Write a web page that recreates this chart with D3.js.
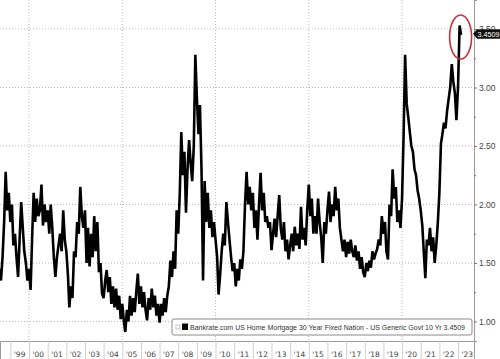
<!DOCTYPE html>
<html>
<head>
<meta charset="utf-8">
<script src="https://cdn.jsdelivr.net/npm/d3@7"></script>
<style>
  body { margin: 0; background: #fff; }
  svg { display: block; font-family: 'DejaVu Sans', sans-serif; }
</style>
</head>
<body>
<div class="chart"></div>
<script>
// monthly spread, first point = June 1998
const firstMonth = new Date(1998, 5, 1);
const spread = [
  1.45, 1.35, 1.55, 1.85, 2.28, 1.95, 2.1,
  1.85, 2.0, 1.65, 1.75, 1.55, 1.38, 1.7, 2.02, 1.8, 1.6, 1.5, 1.35,
  1.45, 1.27, 1.7, 2.10, 1.85, 2.05, 1.9, 1.95, 2.17, 1.82, 2.0, 1.85,
  1.95, 1.75, 2.0, 1.8, 1.55, 1.38, 1.55, 1.65, 1.75, 1.6, 1.95, 1.7,
  1.6, 1.4, 1.12, 1.3, 1.2, 1.6, 1.55, 1.85, 1.75, 2.15, 1.9, 1.8,
  1.95, 1.5, 1.8, 1.47, 1.75, 1.55, 1.9, 1.6, 1.85, 1.42, 1.5, 1.24,
  1.2, 1.35, 1.44, 1.25, 1.38, 1.15, 1.3, 1.12, 1.28, 1.1, 1.22, 1.02,
  1.15, 1.0, 0.91, 1.1, 1.0, 1.22, 1.05, 1.2, 1.08, 1.25, 1.41, 1.15,
  1.3, 1.12, 1.25, 1.1, 1.01, 1.2, 1.1, 1.28, 1.12, 1.22, 1.05, 1.15,
  0.99, 1.15, 1.05, 1.2, 1.08, 1.22, 1.3, 1.52, 1.38, 1.6, 1.45, 1.95,
  1.75, 2.1, 2.62, 2.25, 2.45, 1.93, 2.3, 2.55, 2.35, 2.2, 2.5, 3.28,
  2.9, 2.6, 2.85, 2.3, 1.35, 2.2, 1.85, 2.1, 1.8, 1.95, 1.72, 1.85,
  1.7, 1.55, 1.23, 1.4, 1.6, 1.75, 1.65, 2.02, 1.85, 1.7, 1.55, 1.43,
  1.5, 1.30, 1.45, 1.35, 1.53, 1.45, 1.6, 2.0, 2.28, 2.0, 2.15, 1.95,
  2.1, 1.8, 1.95, 1.70, 2.0, 2.27, 1.95, 2.1, 1.85, 1.9, 1.8, 1.85,
  1.61, 1.75, 1.88, 1.72, 1.9, 2.08, 1.8, 1.7, 1.85, 1.6, 1.7, 1.53,
  1.65, 1.75, 1.6, 1.81, 1.65, 1.75, 1.62, 1.98, 1.7, 1.8, 1.65, 1.95,
  2.17, 1.9, 2.05, 1.75, 1.9, 1.75, 2.05, 1.85, 1.72, 1.50, 1.85, 1.75,
  1.95, 2.11, 1.85, 2.0, 1.9, 2.15, 1.95, 2.05, 1.8, 1.7, 1.6, 1.7,
  1.55, 1.68, 1.58, 1.7, 1.6, 1.55, 1.65, 1.52, 1.6, 1.45, 1.55, 1.42,
  1.38, 1.5, 1.43, 1.52, 1.46, 1.6, 1.53, 1.58, 1.62, 1.7, 1.65, 1.9,
  1.75, 1.85, 1.6, 1.53, 2.0, 1.9, 2.30, 2.05, 2.15, 1.85, 1.95, 1.8,
  2.05, 2.6, 3.28, 2.86, 2.75, 2.62, 2.5, 2.45, 2.3, 2.25, 2.12, 2.05,
  1.95, 1.82, 1.6, 1.37, 1.7, 1.65, 1.8, 1.6, 1.72, 1.5, 1.65, 1.84,
  2.1, 2.52, 2.6, 2.7, 2.65, 2.8, 2.9, 3.0, 3.20, 3.05, 2.95, 2.72,
  3.0, 3.53, 3.45
];
const lastValue = 3.4509;
const yTicks = [1.0, 1.5, 2.0, 2.5, 3.0, 3.5];
const yMinor = [1.25, 1.75, 2.25, 2.75, 3.25];
const gridYears = [2000, 2005, 2010, 2015, 2020];
const yearLabels = d3.range(1999, 2024);
const legendText = 'Bankrate.com US Home Mortgage 30 Year Fixed Nation - US Generic Govt 10 Yr 3.4509';

const w = 500;
const h = 359;
const plotW = 474;
const plotH = 341;

const data = spread.map((v, i) => ({ date: d3.timeMonth.offset(firstMonth, i), value: v }));

const x = d3.scaleTime()
  .domain([new Date(1998, 5, 12), new Date(2023, 10, 10)])
  .range([0, plotW]);
const y = d3.scaleLinear()
  .domain([0.833, 3.748])
  .range([plotH, 0]);

const svg = d3.select('.chart')
  .append('svg')
  .attr('width', w)
  .attr('height', h);

svg.append('clipPath').attr('id', 'clip')
  .append('rect').attr('width', plotW).attr('height', plotH);

// grid
svg.append('g')
  .selectAll('line')
  .data(yTicks)
  .enter()
  .append('line')
  .attr('x1', 0).attr('x2', plotW)
  .attr('y1', d => y(d)).attr('y2', d => y(d))
  .attr('stroke', '#b8b8b8')
  .attr('stroke-dasharray', '1,2');

svg.append('g')
  .selectAll('line')
  .data(gridYears)
  .enter()
  .append('line')
  .attr('x1', d => x(new Date(d, 0, 1))).attr('x2', d => x(new Date(d, 0, 1)))
  .attr('y1', 0).attr('y2', plotH)
  .attr('stroke', '#b8b8b8')
  .attr('stroke-dasharray', '1,2');

// series
const line = d3.line()
  .x(d => x(d.date))
  .y(d => y(d.value));

svg.append('path')
  .datum(data)
  .attr('clip-path', 'url(#clip)')
  .attr('d', line)
  .attr('fill', 'none')
  .attr('stroke', '#000')
  .attr('stroke-width', 2.6)
  .attr('stroke-linejoin', 'miter');

// right axis
const yAxis = svg.append('g')
  .attr('transform', `translate(${plotW},0)`)
  .call(d3.axisRight(y).tickValues(yTicks).tickFormat(d3.format('.2f')).tickSize(3).tickPadding(2));
yAxis.select('.domain').attr('stroke', '#9a9a9a');
yAxis.selectAll('.tick line').attr('stroke', '#777');
yAxis.selectAll('text').attr('fill', '#444').style('font-size', '8.5px');

svg.append('g')
  .attr('transform', `translate(${plotW},0)`)
  .call(d3.axisRight(y).tickValues(yMinor).tickFormat('').tickSize(2))
  .call(g => g.select('.domain').remove())
  .selectAll('.tick line').attr('stroke', '#777');

// bottom axis: separators at year starts, labels in the middle
const xAxis = svg.append('g')
  .attr('transform', `translate(0,${plotH})`)
  .call(d3.axisBottom(x)
    .tickValues(d3.range(1999, 2024).map(yr => new Date(yr, 0, 1)))
    .tickFormat('')
    .tickSize(h - plotH));
xAxis.select('.domain').attr('stroke', '#9a9a9a');
xAxis.selectAll('.tick line').attr('stroke', '#d0d0d0');

svg.append('g')
  .selectAll('text')
  .data(yearLabels)
  .enter()
  .append('text')
  .attr('x', d => x(new Date(d, 6, 1)))
  .attr('y', 357)
  .attr('text-anchor', 'middle')
  .attr('fill', '#444')
  .style('font-size', '7.5px')
  .text(d => `'${String(d).slice(2)}`);

// last value badge (partly covers the 3.50 label, as in the source)
const by = y(lastValue) - 1;
svg.append('path')
  .attr('d', `M${plotW - 1},${by} L${plotW + 3},${by - 4.5} L${w},${by - 4.5} L${w},${by + 5} L${plotW + 3},${by + 5} Z`)
  .attr('fill', '#111');
svg.append('text')
  .attr('x', plotW + 3.5)
  .attr('y', by + 3)
  .attr('fill', '#fff')
  .style('font-family', "'Liberation Sans', sans-serif")
  .style('font-size', '7.2px')
  .text(d3.format('.4f')(lastValue));

// red circle on the peak
svg.append('ellipse')
  .attr('cx', x(new Date(2023, 1, 1)) + 1)
  .attr('cy', 37)
  .attr('rx', 11)
  .attr('ry', 22)
  .attr('fill', 'none')
  .attr('stroke', '#c8303a')
  .attr('stroke-width', 1.6);

// legend
const legend = svg.append('g').attr('transform', 'translate(172,319)');
legend.append('rect')
  .attr('width', 300).attr('height', 16).attr('rx', 2)
  .attr('fill', '#fff').attr('stroke', '#8a8a8a');
legend.append('rect')
  .attr('x', 4).attr('y', 6).attr('width', 4).attr('height', 4)
  .attr('fill', 'none').attr('stroke', '#aaa').attr('stroke-width', 0.7);
legend.append('rect')
  .attr('x', 10).attr('y', 4.5).attr('width', 6).attr('height', 6.5)
  .attr('fill', '#000');
legend.append('text')
  .attr('x', 18).attr('y', 11.3)
  .attr('fill', '#333')
  .attr('textLength', 275)
  .attr('lengthAdjust', 'spacingAndGlyphs')
  .style('font-family', "'Liberation Sans', sans-serif")
  .style('font-size', '7px')
  .text(legendText);
</script>
</body>
</html>
